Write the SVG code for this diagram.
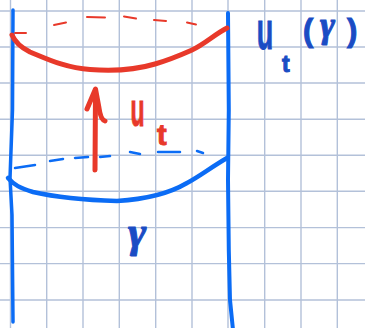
<svg xmlns="http://www.w3.org/2000/svg" width="365" height="328" viewBox="0 0 365 328">
<style>
.grid line{stroke:#b3c1d9;stroke-width:1.4}
.pen{fill:none;stroke-linecap:round;stroke-linejoin:round}
.blue{stroke:#0b6cf5}
.red{stroke:#e8392a}
.lblB{fill:#1a4cc4;stroke:#1a4cc4;stroke-width:1;font-family:"Liberation Sans",Arial,sans-serif;font-weight:bold}
.lblR{fill:#e8392a;stroke:#e8392a;stroke-width:1;font-family:"Liberation Sans",Arial,sans-serif;font-weight:bold}
.greek{font-family:"Liberation Serif","DejaVu Serif",serif;font-style:italic}
</style>
<rect width="365" height="328" fill="#ffffff"/>
<g class="grid" id="grid">
<line x1="10.5" y1="0" x2="10.5" y2="328"/>
<line x1="46.7" y1="0" x2="46.7" y2="328"/>
<line x1="83" y1="0" x2="83" y2="328"/>
<line x1="119.3" y1="0" x2="119.3" y2="328"/>
<line x1="155.7" y1="0" x2="155.7" y2="328"/>
<line x1="192" y1="0" x2="192" y2="328"/>
<line x1="228" y1="0" x2="228" y2="328"/>
<line x1="264.7" y1="0" x2="264.7" y2="328"/>
<line x1="301" y1="0" x2="301" y2="328"/>
<line x1="337.3" y1="0" x2="337.3" y2="328"/>
<line x1="0" y1="11" x2="365" y2="11"/>
<line x1="0" y1="47" x2="365" y2="47"/>
<line x1="0" y1="83" x2="365" y2="83"/>
<line x1="0" y1="119.3" x2="365" y2="119.3"/>
<line x1="0" y1="155.3" x2="365" y2="155.3"/>
<line x1="0" y1="191.3" x2="365" y2="191.3"/>
<line x1="0" y1="227.6" x2="365" y2="227.6"/>
<line x1="0" y1="263.6" x2="365" y2="263.6"/>
<line x1="0" y1="300" x2="365" y2="300"/>
</g>
<g id="wall-left">
<path class="pen blue" stroke-width="3.5" d="M13,10 L12.5,110 L10,178 L12,215 L13,322"/>
</g>
<g id="wall-right">
<path class="pen blue" stroke-width="4" d="M228,13 L228.8,110 L228,180 L228.8,250 L230,300 L233,330"/>
</g>
<g id="curve-gamma">
<path class="pen blue" stroke-width="2.5" d="M15,168 L35,165 M50,161 L63,159 M75,158 L88,157 M100,157 L110,156 M130,152 L140,154 M158,152 L180,152 M197,151 L203,153"/>
<path class="pen blue" stroke-width="4.5" d="M8,178 C14,185 20,188 33,192 C55,197 83,200 117,201 C150,199 170,193 187,183 C200,176 210,168 227,158"/>
</g>
<g id="curve-top">
<path class="pen red" stroke-width="2" d="M15,33 L26,33 M54,25 L66,22.5 M87,17 L105,17.5 M124,16.5 L136,18.5 M154,20 L166,21 M187,22.5 L196,24.5"/>
<path class="pen red" stroke-width="5" d="M12,35 C15,42 20,47 30,52 C45,58 65,68 90,69.5 C110,71 135,70 155,64 C172,59 183,54 192,50 C205,44 215,34 227,28"/>
</g>
<g id="connectors">
<path class="pen red" stroke-width="5" d="M95,170 L95.5,91"/>
<path class="pen red" stroke-width="5" d="M87,109 L95.5,89 L99,108 C100,115 102,120 105,121"/>
</g>
<g id="label-flow">
<text class="lblR" transform="translate(137.5,126) scale(0.5,1)" font-size="46" text-anchor="middle">u</text>
<text class="lblR" x="157" y="145" font-size="29">t</text>
</g>
<g id="label-image">
<text class="lblB" transform="translate(265,49) scale(0.5,1)" font-size="54" text-anchor="middle">u</text>
<text class="lblB" x="282" y="72" font-size="23">t</text>
<text class="lblB" x="303" y="41" font-size="31">(</text>
<text class="lblB greek" x="320" y="37" font-size="36">γ</text>
<text class="lblB" x="347" y="41" font-size="31">)</text>
</g>
<g id="label-gamma">
<text class="lblB greek" x="128" y="247" font-size="44">γ</text>
</g>
</svg>
